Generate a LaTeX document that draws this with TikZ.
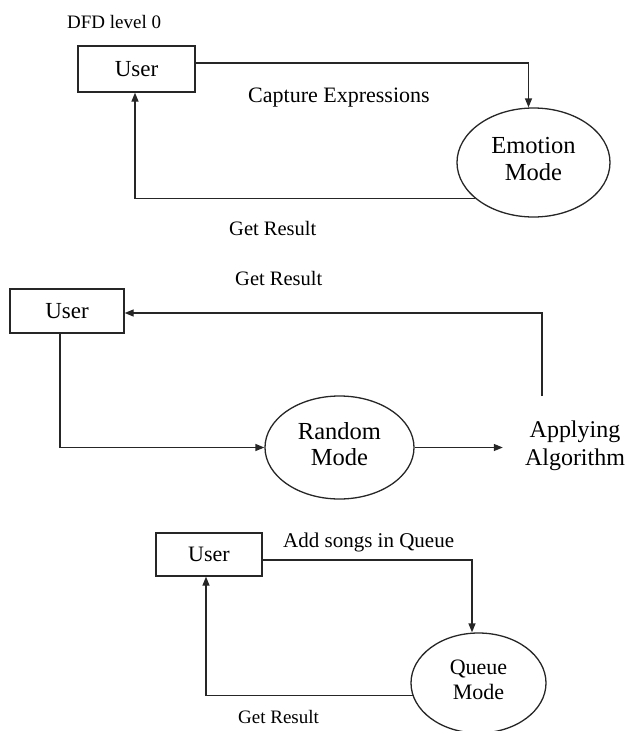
\documentclass[tikz,border=0pt]{standalone}
\usepackage{fontspec}
\setmainfont{Liberation Serif}
\usetikzlibrary{shapes.geometric,arrows.meta}
\newcommand{\lowpad}{\rule[-7pt]{0pt}{7pt}}
\begin{document}
\begin{tikzpicture}[x=1pt,y=-1pt,
  conn/.style={line width=1.3pt, draw=black!85},
  arr/.style={conn,-{Triangle[length=9pt,width=7pt]}},
  userbox/.style={draw=black!85,line width=1.3pt,rectangle,inner sep=0pt},
  proc/.style={draw=black!85,line width=1.3pt,ellipse,inner sep=0pt,align=center},
  lbl/.style={anchor=base west,inner sep=0pt},
]
\useasboundingbox (0,0) rectangle (627,731);

% ---- part 1
\node[lbl,font=\fontsize{19}{22}\selectfont] (title) at (67,28) {DFD level 0};
\node[userbox,minimum width=117pt,minimum height=46pt,font=\fontsize{23}{27}\selectfont] (u1) at (136.5,69) {User};
\node[proc,minimum width=153pt,minimum height=109pt,font=\fontsize{24.5}{26.7}\selectfont] (emo) at (533.5,162.5) {Emotion\\Mode\lowpad};
\node[lbl,font=\fontsize{22}{26}\selectfont] (cap) at (248,102) {Capture Expressions};
\node[lbl,font=\fontsize{20.5}{24}\selectfont] (gr1) at (229,235) {Get Result};
\draw[arr] ([yshift=6pt]u1.east) -| ([xshift=-5pt]emo.north);
\draw[arr] (emo.212) -| ([xshift=-1.5pt]u1.south);

% ---- part 2
\node[lbl,font=\fontsize{20.5}{24}\selectfont] (gr2) at (235,285) {Get Result};
\node[userbox,minimum width=114pt,minimum height=44pt,font=\fontsize{23}{27}\selectfont] (u2) at (67,311) {User};
\node[proc,minimum width=149pt,minimum height=103pt,font=\fontsize{24.5}{26.7}\selectfont] (rnd) at (339.5,447.5) {Random\\Mode\lowpad};
\node[align=center,inner sep=0pt,font=\fontsize{24}{28}\selectfont] (alg) at (575,445.5) {Applying\\Algorithm};
\coordinate (algtop) at (542,396);
\draw[arr] (algtop) |- ([yshift=-2pt]u2.east);
\draw[arr] ([xshift=-7pt]u2.south) |- (rnd.west);
\draw[arr] (rnd.east) -- ([xshift=-22pt]alg.west |- rnd.east);

% ---- part 3
\node[lbl,font=\fontsize{21}{25}\selectfont] (add) at (283,547) {Add songs in Queue};
\node[userbox,minimum width=106pt,minimum height=43pt,font=\fontsize{22}{26}\selectfont] (u3) at (209,554.5) {User};
\node[proc,minimum width=135pt,minimum height=100pt,font=\fontsize{22}{24.7}\selectfont] (que) at (478.5,683) {Queue\\Mode\lowpad};
\node[lbl,font=\fontsize{19}{22}\selectfont] (gr3) at (238,723) {Get Result};
\draw[arr] ([yshift=-5.5pt]u3.east) -| ([xshift=-6.5pt]que.north);
\draw[arr] (que.191) -| ([xshift=-3pt]u3.south);
\end{tikzpicture}
\end{document}
